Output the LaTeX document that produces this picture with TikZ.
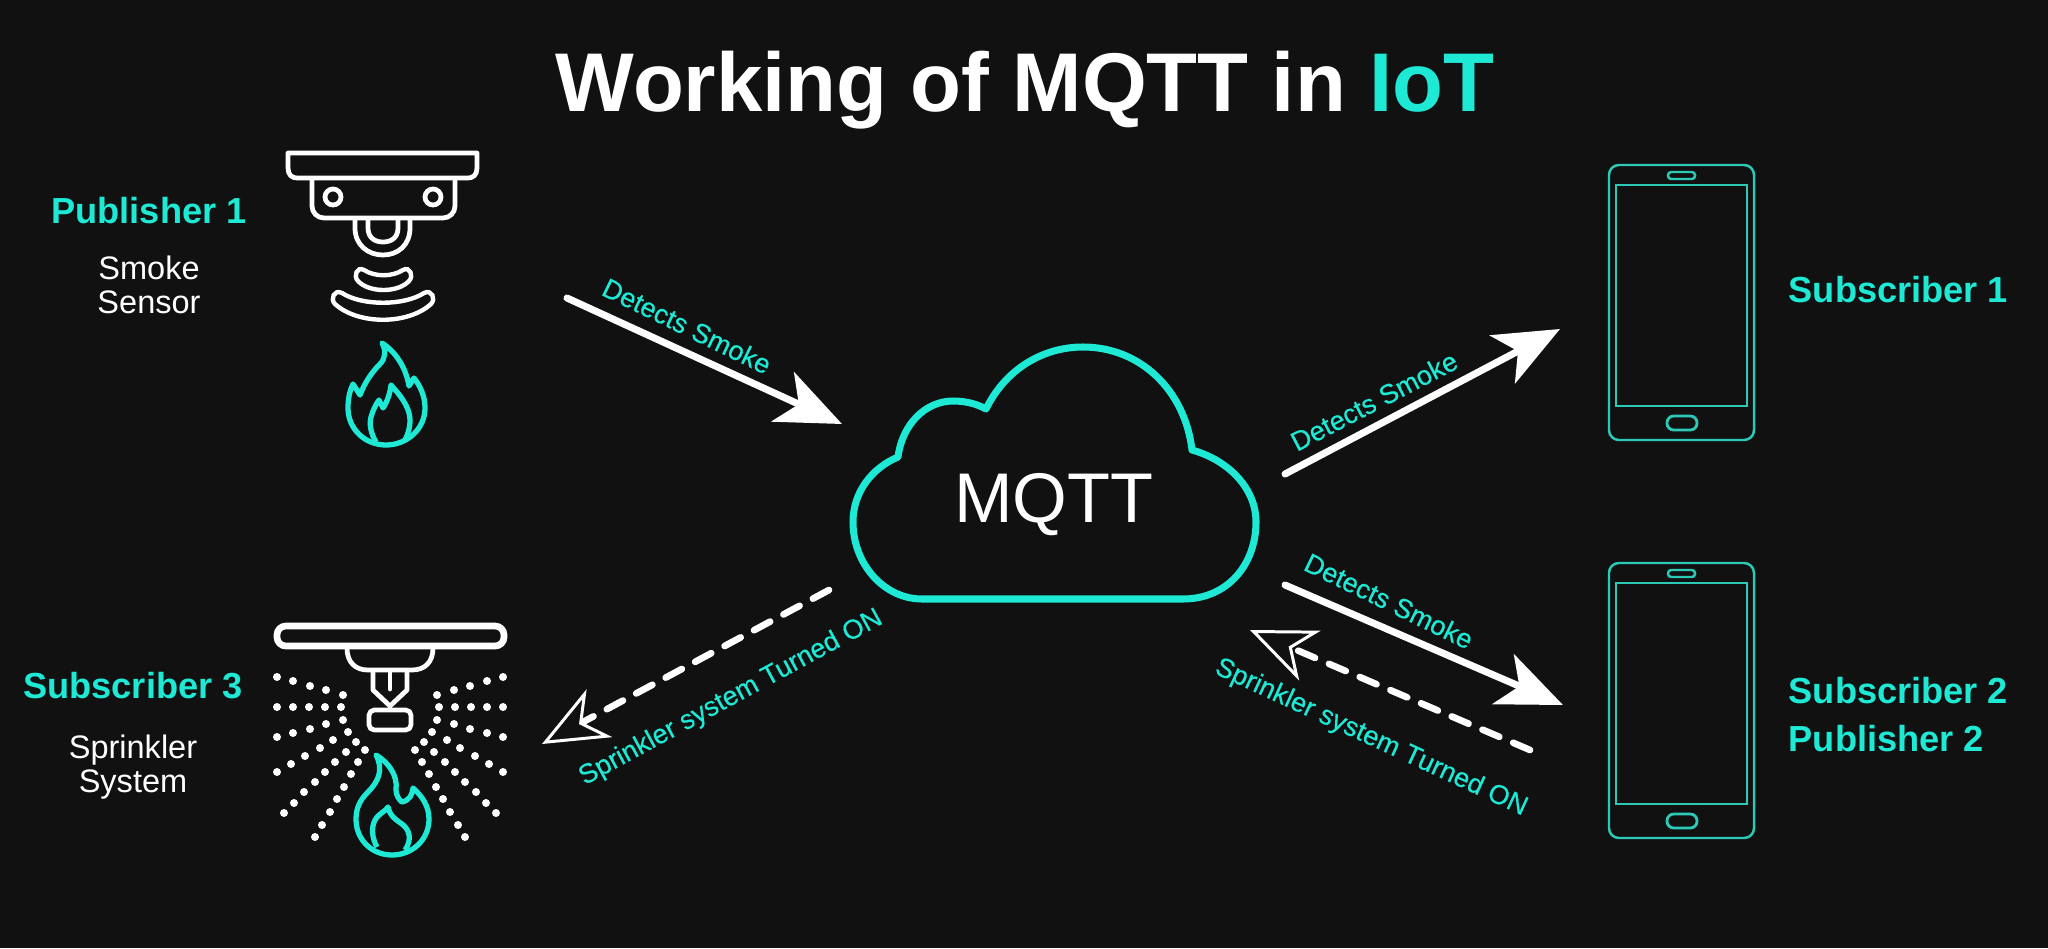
\documentclass[tikz,border=0pt]{standalone}
\usepackage{fontspec}
\setmainfont{Liberation Sans}
\newfontfamily\lblfont[FakeBold=0.4]{Liberation Sans}
\usetikzlibrary{arrows.meta,positioning}
\definecolor{ink}{HTML}{FFFFFF}
\definecolor{accent}{HTML}{1DE9D5}
\definecolor{muted}{HTML}{2CC9B6}
\definecolor{bgc}{HTML}{111111}
\tikzset{
  title/.style={inner sep=0pt,anchor=base,font=\fontsize{23.7}{28}\selectfont\bfseries,text=ink},
  role/.style={inner sep=0pt,anchor=base,font=\fontsize{10.3}{12}\selectfont\bfseries,text=accent},
  kind/.style={inner sep=0pt,align=center,font=\fontsize{9.25}{9.7}\selectfont,text=ink},
  lbl/.style={inner sep=0pt,font=\fontsize{7.7}{9}\selectfont\lblfont,text=accent},
  icon/.style={draw=ink,line width=1.35pt,line join=round},
  wave/.style={draw=ink,line width=1.25pt},
  flame/.style={draw=accent,line width=1.5pt,line join=round},
  mist/.style={fill=ink},
  phone/.style={draw=muted,line width=0.7pt},
  flow/.style={-{Stealth[length=18.5pt,width=15.4pt,inset=5pt,fill=ink]},draw=ink,line width=2pt,line cap=round},
  back/.style={-{Stealth[open,length=18.5pt,width=15.4pt,inset=5.5pt,line width=0.85pt,fill=bgc]},draw=ink,
    line width=1.9pt,line cap=round,dash pattern=on 5.2pt off 4.3pt}
}
\begin{document}
\begin{tikzpicture}[x=0.01cm,y=-0.01cm]
  \fill[bgc] (0,0) rectangle (2048,948);
  \node[title] (head) at (1025,111) {Working of MQTT in \textcolor{accent}{IoT}};

  \draw[icon] (288,153) -- (477,153) -- (477,168) .. controls (477,175) and (473,178) .. (468,178) -- (297,178) .. controls (292,178) and (288,175) .. (288,168) -- cycle;
  \draw[icon,rounded corners=3.4pt] (312,178) -- (312,218) -- (455,218) -- (455,178);
  \draw[icon] (333,197) circle[radius=8];
  \draw[icon] (433,197) circle[radius=8];
  \draw[icon] (355,218) -- (355,228) .. controls (355,245) and (368,255) .. (383,255) .. controls (398,255) and (410,245) .. (410,228) -- (410,218);
  \draw[icon] (368,218) -- (368,228) .. controls (368,237) and (374,242) .. (383,242) .. controls (392,242) and (398,237) .. (398,228) -- (398,218);
  \draw[wave] (364,270) .. controls (375,277) and (392,277) .. (403,270) .. controls (410,266) and (414,276) .. (409,281) .. controls (398,293) and (369,293) .. (358,281) .. controls (353,276) and (357,266) .. (364,270) -- cycle;
  \draw[wave] (342,293) .. controls (362,306) and (404,306) .. (424,293) .. controls (432,289) and (436,299) .. (431,304) .. controls (408,325) and (358,325) .. (335,304) .. controls (330,299) and (334,289) .. (342,293) -- cycle;
  \draw[flame] (382,343) .. controls (396,352) and (406,368) .. (409,386) -- (414,378) .. controls (421,387) and (425,397) .. (425,408) .. controls (425,429) and (407,445) .. (386,445) .. controls (365,445) and (348,429) .. (348,408) .. controls (348,398) and (350,390) .. (353,384) -- (360,395) .. controls (365,382) and (372,372) .. (380,364) .. controls (386,358) and (386,350) .. (382,343) -- cycle;
  \draw[flame] (376,442) .. controls (371,434) and (369,424) .. (371,417) .. controls (373,410) and (376,404) .. (379,400) -- (383,408) .. controls (387,402) and (390,394) .. (391,385) .. controls (398,393) and (410,406) .. (410,420) .. controls (410,428) and (408,434) .. (405,440);

  \draw[icon,line width=1.9pt,rounded corners=2.5pt] (277,626) rectangle (504,646);
  \draw[icon] (347,648) .. controls (347,662) and (355,670) .. (368,670) -- (412,670) .. controls (425,670) and (433,662) .. (433,648);
  \draw[icon] (373,671) -- (373,690) -- (390,706) -- (407,690) -- (407,671);
  \draw[icon,line cap=round] (390,671) -- (390,689);
  \draw[icon,rounded corners=1.5pt] (369,710) rectangle (411,730);
  \foreach \dx/\dy in {113/677,97/681,80/686,64/690,47/695,
    113/707,97/707,81/707,65/707,49/707,
    113/737,97/733,80/729,64/724,47/720,
    113/772,99/764,85/756,70/748,57/740,42/732,
    106/813,96/803,86/792,75/782,65/772,55/762,44/752,34/742,
    75/837,68/825,60/812,53/799,46/787,39/774,32/762,25/750}{
    \fill[mist] (390-\dx,\dy) circle[radius=4];
    \fill[mist] (390+\dx,\dy) circle[radius=4];
  }
  \draw[flame] (376,755) .. controls (388,762) and (398,775) .. (396,790) .. controls (396,795) and (399,800) .. (402,802) .. controls (410,800) and (412,795) .. (413,788) .. controls (422,796) and (429,806) .. (429,819) .. controls (429,840) and (412,855) .. (392,855) .. controls (372,855) and (356,840) .. (356,819) .. controls (356,806) and (362,798) .. (368,792) .. controls (378,782) and (384,770) .. (376,755) -- cycle;
  \draw[flame] (377,847) .. controls (372,838) and (371,828) .. (375,820) .. controls (379,813) and (385,812) .. (388,807) .. controls (390,816) and (396,820) .. (402,824) .. controls (410,830) and (412,840) .. (405,850);

  \node[role] (pub1) at (149,223) {Publisher 1};
  \node[kind,below=3.1mm of pub1] (smoke) {Smoke\\Sensor};
  \node[role] (sub3) at (133,698) {Subscriber 3};
  \node[kind,below=3.5mm of sub3] (sprink) {Sprinkler\\System};

  \draw[draw=accent,line width=2pt,line join=round] (922,599) .. controls (884,599) and (853,564) .. (853,522) .. controls (853,492) and (872,468) .. (898,457) .. controls (902,425) and (925,401) .. (953,401) .. controls (966,401) and (977,404) .. (986,409) .. controls (1005,370) and (1042,347) .. (1083,347) .. controls (1140,347) and (1185,390) .. (1192,450) .. controls (1228,460) and (1256,488) .. (1256,522) .. controls (1256,564) and (1228,599) .. (1183,599) -- cycle;
  \node[inner sep=0pt,anchor=base,font=\fontsize{20}{24}\selectfont,text=ink] (mqtt) at (1054,522) {MQTT};

  \foreach \py in {0,398}{
    \begin{scope}[yshift=-\py*0.01cm]
      \draw[phone,rounded corners=2.8pt] (1609,165) rectangle (1754,440);
      \draw[phone] (1616,185) rectangle (1747,406);
      \draw[phone,rounded corners=0.9pt] (1668,172) rectangle (1695,179);
      \draw[phone,rounded corners=1.9pt,line width=0.8pt] (1667,416) rectangle (1697,430);
    \end{scope}
  }
  \node[role,anchor=base west] (sub1) at (1788,302) {Subscriber 1};
  \node[role,anchor=base west] (sub2) at (1788,703) {Subscriber 2};
  \node[role,below=2mm of sub2.south west,anchor=north west] (pub2) {Publisher 2};

  \coordinate (pub1out) at (567,298);
  \coordinate (mqttin) at (842,424);
  \coordinate (mqttup) at (1285,474);
  \coordinate (sub1in) at (1560,329);
  \coordinate (mqttdown) at (1285,585);
  \coordinate (sub2in) at (1563,705);
  \coordinate (sub2out) at (1530,750);
  \coordinate (mqttback) at (1250,630);
  \coordinate (mqttleft) at (829,590);
  \coordinate (sub3in) at (542,744);
  \draw[flow] (pub1out) -- (mqttin);
  \draw[flow] (mqttup) -- (sub1in);
  \draw[flow] (mqttdown) -- (sub2in);
  \draw[back] (sub2out) -- (mqttback);
  \draw[back] (mqttleft) -- (sub3in);

  \node[lbl,rotate=-26] (det1) at (687,326) {Detects Smoke};
  \node[lbl,rotate=27.5] (det2) at (1374,401) {Detects Smoke};
  \node[lbl,rotate=-26] (det3) at (1389,601) {Detects Smoke};
  \node[lbl,rotate=-24.8] (spr1) at (1371,738) {Sprinkler system Turned ON};
  \node[lbl,rotate=28.5] (spr2) at (731,698) {Sprinkler system Turned ON};
\end{tikzpicture}
\end{document}
